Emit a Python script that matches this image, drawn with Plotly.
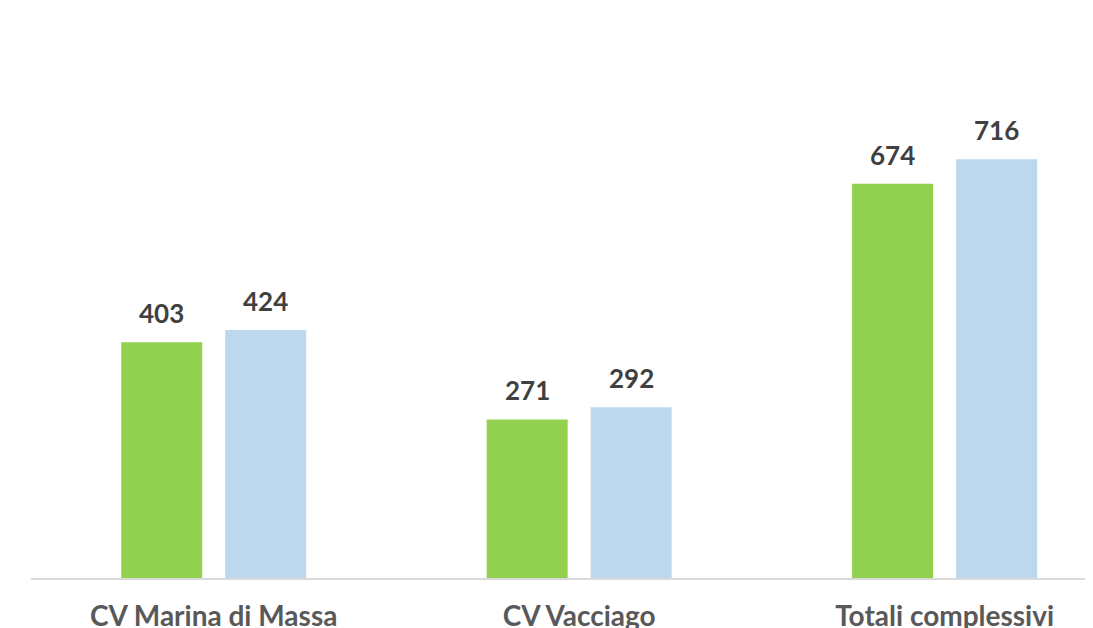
import plotly.graph_objects as go

categories = ["CV Marina di Massa", "CV Vacciago", "Totali complessivi"]
series_a = [403, 271, 674]
series_b = [424, 292, 716]

GREEN = "#92D050"
BLUE = "#BDD7EE"
BAR_W = 0.2216
OFF_A = -0.2531
OFF_B = 0.0315

fig = go.Figure()
idx = list(range(len(categories)))
fig.add_trace(go.Bar(x=idx, y=series_a, marker_color=GREEN, width=BAR_W, offset=OFF_A,
                     showlegend=False, hoverinfo="x+y"))
fig.add_trace(go.Bar(x=idx, y=series_b, marker_color=BLUE, width=BAR_W, offset=OFF_B,
                     showlegend=False, hoverinfo="x+y"))

for vals, off in ((series_a, OFF_A), (series_b, OFF_B)):
    for i, v in zip(idx, vals):
        fig.add_annotation(x=i + off + BAR_W / 2, y=v, text=f"<b>{v}</b>", showarrow=False,
                           xanchor="center", yanchor="bottom", yshift=11,
                           font=dict(family="Lato", size=26, color="#404040"))

fig.update_layout(
    width=1085, height=620,
    margin=dict(l=23, r=0, t=102, b=50, autoexpand=False),
    paper_bgcolor="white", plot_bgcolor="white",
    barmode="overlay",
    font=dict(family="Lato"),
    xaxis=dict(range=[-0.5, 2.406], tickmode="array", tickvals=idx,
               ticktext=[f"<b>{c}</b>" for c in categories],
               showgrid=False, zeroline=False, showline=True, linecolor="#D9D9D9", linewidth=2,
               ticks="", ticklabelstandoff=12,
               tickfont=dict(family="Lato", size=28, color="#595959")),
    yaxis=dict(range=[0, 800], visible=False, showgrid=False, zeroline=False),
)
fig.update_traces(marker_line_width=0)
fig.write_html("out.html")
